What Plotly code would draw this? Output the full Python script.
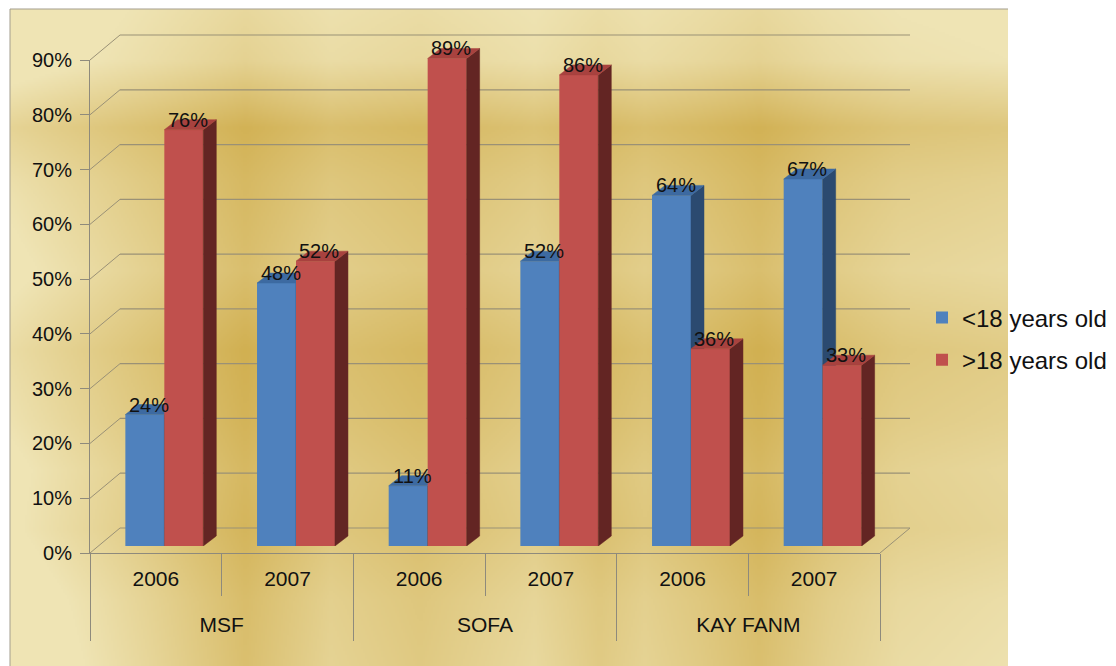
import base64
import struct
import zlib

import numpy as np
import plotly.graph_objects as go

# ---------------- data ----------------
orgs = ["MSF", "MSF", "SOFA", "SOFA", "KAY FANM", "KAY FANM"]
years = ["2006", "2007", "2006", "2007", "2006", "2007"]
under18 = [0.24, 0.48, 0.11, 0.52, 0.64, 0.67]
over18 = [0.76, 0.52, 0.89, 0.86, 0.36, 0.33]
series_names = ["<18 years old", ">18 years old"]
y_tickvals = [0.0, 0.1, 0.2, 0.3, 0.4, 0.5, 0.6, 0.7, 0.8, 0.9]
y_ticktext = ["0%", "10%", "20%", "30%", "40%", "50%", "60%", "70%", "80%", "90%"]

# ---------------- geometry / style ----------------
W, H = 1116, 666
FONT = "Liberation Sans, Arial, sans-serif"
GRID = "#9a9176"
AX = "#8e8a7c"
BLUE, BLUE_TOP, BLUE_SIDE = "#4f81bd", "#3d6aa1", "#2b4a70"
RED, RED_TOP, RED_SIDE = "#c0504d", "#a8423f", "#632523"

FX0, FX1 = 90, 880          # front floor edge (px)
FY0, FY90 = 553, 60          # front axis: 0 and 90% (px)
YMAX = 0.9
PPU = (FY0 - FY90) / YMAX    # px per unit of value
BAR_SHIFT = (8.5, -7)        # bar front plane offset from front plane
BACK_SHIFT = (30, -25)       # back wall offset from front plane
DEPTH_PX = (13, -10)         # bar depth (px)
BW = 0.296                   # bar width in category units

ncat = len(years)
idx = list(range(ncat))
PPC = (FX1 - FX0) / ncat     # px per category
dx = DEPTH_PX[0] / PPC
dy = -DEPTH_PX[1] / PPU


def px(x):
    return x / W


def py(y):
    return 1 - y / H


def front_y(v):
    return py(FY0 - v * PPU)


def back_y(v):
    return py(FY0 + BACK_SHIFT[1] - v * PPU)


# ---------------- background gradient image ----------------
def make_png(arr):
    h, w, _ = arr.shape
    raw = b"".join(b"\x00" + arr[i].tobytes() for i in range(h))

    def chunk(t, d):
        c = struct.pack(">I", len(d)) + t + d
        return c + struct.pack(">I", zlib.crc32(t + d) & 0xFFFFFFFF)

    return (b"\x89PNG\r\n\x1a\n"
            + chunk(b"IHDR", struct.pack(">IIBBBBB", w, h, 8, 2, 0, 0, 0))
            + chunk(b"IDAT", zlib.compress(raw, 9))
            + chunk(b"IEND", b""))


BG_X0, BG_Y0, BG_X1, BG_Y1 = 10, 9, 1008, 666
iw, ih = 499, 329
xs = np.linspace(BG_X0, BG_X1, iw)
ys = np.linspace(BG_Y0, BG_Y1, ih)
a = np.interp(ys, [9, 60, 127, 180, 270, 350, 420, 470, 530, 600, 666],
              [0.08, 0.16, 0.7, 0.55, 0.42, 0.68, 0.6, 0.5, 0.55, 0.4, 0.35])
c = np.interp(ys, [9, 200, 666], [0.45, 0.75, 1.0])
b = np.interp(xs, [10, 60, 150, 245, 330, 420, 535, 600, 645, 700, 760, 830, 900, 1008],
              [-0.65, -0.45, -0.1, 0.3, -0.05, 0.12, -0.15, 0.1, -0.05, 0.1, 0.3, 0.0, -0.2, -0.3])
wgt = np.clip(a[:, None] + b[None, :] * c[:, None], 0, 1)
light = np.array([239, 228, 180], dtype=float)
dark = np.array([207, 172, 74], dtype=float)
img = (light[None, None, :] + (dark - light)[None, None, :] * wgt[:, :, None]).astype(np.uint8)
bg_uri = "data:image/png;base64," + base64.b64encode(make_png(img)).decode()

# ---------------- traces ----------------
fig = go.Figure()

# anchor traces for the front axes (empty)
fig.add_trace(go.Scatter(x=[], y=[], xaxis="x", yaxis="y", showlegend=False, hoverinfo="skip"))
fig.add_trace(go.Scatter(x=[], y=[], xaxis="x4", yaxis="y", showlegend=False, hoverinfo="skip"))


def faces(vals, left_offset):
    sx, sy, tx, ty = [], [], [], []
    for i, v in zip(idx, vals):
        xl = i + left_offset
        xr = xl + BW
        sx += [xr, xr + dx, xr + dx, xr, xr, None]
        sy += [0, dy, v + dy, v, 0, None]
        tx += [xl, xl + dx, xr + dx, xr, xl, None]
        ty += [v, v + dy, v + dy, v, v, None]
    return sx, sy, tx, ty


for vals, name, off, cols, xa, ya, grp in [
    (under18, series_names[0], -BW, (BLUE, BLUE_TOP, BLUE_SIDE), "x2", "y2", "g1"),
    (over18, series_names[1], 0.0, (RED, RED_TOP, RED_SIDE), "x3", "y3", "g2"),
]:
    fig.add_trace(go.Bar(x=idx, y=vals, offset=off, width=BW, name=name, legendgroup=grp,
                         marker=dict(color=cols[0], line=dict(width=0)),
                         xaxis=xa, yaxis=ya, hoverinfo="skip"))
    sx, sy, tx, ty = faces(vals, off)
    fig.add_trace(go.Scatter(x=sx, y=sy, fill="toself", fillcolor=cols[2], mode="lines",
                             line=dict(width=0.5, color=cols[2]), xaxis=xa, yaxis=ya,
                             legendgroup=grp, showlegend=False, hoverinfo="skip"))
    fig.add_trace(go.Scatter(x=tx, y=ty, fill="toself", fillcolor=cols[1], mode="lines",
                             line=dict(width=0.5, color=cols[1]), xaxis=xa, yaxis=ya,
                             legendgroup=grp, showlegend=False, hoverinfo="skip"))

# ---------------- annotations (data labels) ----------------
annotations = []
for vals, off in [(under18, -BW / 2), (over18, BW / 2)]:
    for i, v in zip(idx, vals):
        annotations.append(dict(x=i + off, y=v, xref="x2", yref="y2", text=f"{round(v * 100)}%",
                                showarrow=False, yanchor="bottom", xanchor="center",
                                xshift=4, yshift=-3, font=dict(size=20, color="#111", family=FONT)))

# ---------------- shapes: 3D box (back wall grid, depth lines) ----------------
shapes = []
for v in y_tickvals:
    shapes.append(dict(type="line", xref="paper", yref="paper", layer="below",
                       x0=px(FX0 + BACK_SHIFT[0]), x1=px(FX1 + BACK_SHIFT[0]),
                       y0=back_y(v), y1=back_y(v), line=dict(color=GRID, width=1.2)))
    shapes.append(dict(type="line", xref="paper", yref="paper", layer="below",
                       x0=px(FX0), x1=px(FX0 + BACK_SHIFT[0]),
                       y0=front_y(v), y1=back_y(v), line=dict(color=GRID, width=1)))
shapes.append(dict(type="line", xref="paper", yref="paper", layer="below",
                   x0=px(FX1), x1=px(FX1 + BACK_SHIFT[0]), y0=front_y(0), y1=back_y(0),
                   line=dict(color=GRID, width=1)))
# chart-area border (top, left)
shapes.append(dict(type="line", xref="paper", yref="paper", layer="above",
                   x0=px(BG_X0), x1=px(BG_X1), y0=py(BG_Y0), y1=py(BG_Y0),
                   line=dict(color="#a39d8d", width=1)))
shapes.append(dict(type="line", xref="paper", yref="paper", layer="above",
                   x0=px(BG_X0), x1=px(BG_X0), y0=py(BG_Y0), y1=py(BG_Y1),
                   line=dict(color="#a39d8d", width=1)))

# group centres / boundaries for the org level
uniq_orgs = list(dict.fromkeys(orgs))
org_centres = [float(np.mean([i for i in idx if orgs[i] == o])) for o in uniq_orgs]
org_bounds = [min(i for i in idx if orgs[i] == o) - 0.5 for o in uniq_orgs] + [ncat - 0.5]
year_bounds = [i - 0.5 for i in idx] + [ncat - 0.5]

xr = [-0.5, ncat - 0.5]
bar_dom_x = [px(FX0 + BAR_SHIFT[0]), px(FX1 + BAR_SHIFT[0])]
bar_dom_y = [py(FY0 + BAR_SHIFT[1]), py(FY0 + BAR_SHIFT[1] - 0.95 * PPU)]

fig.update_layout(
    width=W, height=H, autosize=False,
    margin=dict(l=0, r=0, t=0, b=0, pad=0, autoexpand=False),
    paper_bgcolor="white", plot_bgcolor="rgba(0,0,0,0)",
    font=dict(family=FONT, color="#111", size=20),
    hovermode=False,
    images=[dict(source=bg_uri, xref="paper", yref="paper", x=px(BG_X0), y=py(BG_Y0),
                 sizex=px(BG_X1) - px(BG_X0), sizey=py(BG_Y0) - py(BG_Y1),
                 xanchor="left", yanchor="top", sizing="stretch", layer="below")],
    shapes=shapes,
    annotations=annotations,
    xaxis=dict(domain=[px(FX0), px(FX1)], range=xr, anchor="y", automargin=False,
               tickmode="array", tickvals=idx, ticktext=years, ticks="",
               ticklabelstandoff=7, tickfont=dict(size=21),
               showline=True, linecolor=AX, linewidth=1, showgrid=False, zeroline=False,
               minor=dict(tickmode="array", tickvals=year_bounds, ticks="outside",
                          ticklen=42, tickcolor=AX, tickwidth=1, showgrid=False)),
    xaxis4=dict(overlaying="x", anchor="y", range=xr, automargin=False,
                tickmode="array", tickvals=org_centres, ticktext=uniq_orgs, ticks="",
                ticklabelstandoff=57, tickfont=dict(size=21),
                showline=False, showgrid=False, zeroline=False,
                minor=dict(tickmode="array", tickvals=org_bounds, ticks="outside",
                           ticklen=87, tickcolor=AX, tickwidth=1, showgrid=False)),
    yaxis=dict(domain=[py(FY0), py(FY90)], range=[0, YMAX], anchor="x", automargin=False,
               tickmode="array", tickvals=y_tickvals, ticktext=y_ticktext,
               ticks="outside", ticklen=9, tickcolor=AX, ticklabelstandoff=4,
               tickfont=dict(size=20),
               showline=True, linecolor=AX, linewidth=1, showgrid=False, zeroline=False),
    xaxis2=dict(domain=bar_dom_x, range=xr, anchor="y2", visible=False, automargin=False),
    yaxis2=dict(domain=bar_dom_y, range=[0, 0.95], anchor="x2", visible=False, automargin=False),
    xaxis3=dict(overlaying="x2", range=xr, anchor="y3", visible=False, automargin=False),
    yaxis3=dict(overlaying="y2", range=[0, 0.95], anchor="x3", visible=False, automargin=False),
    barmode="overlay",
    showlegend=True,
    legend=dict(x=px(922), xanchor="left", y=py(339), yanchor="middle",
                bgcolor="rgba(0,0,0,0)", font=dict(size=24, color="#111", family=FONT),
                traceorder="grouped", tracegroupgap=8),
)

fig.write_html("out.html", config={"displayModeBar": False},
               post_script="document.body.style.margin='0px';")
